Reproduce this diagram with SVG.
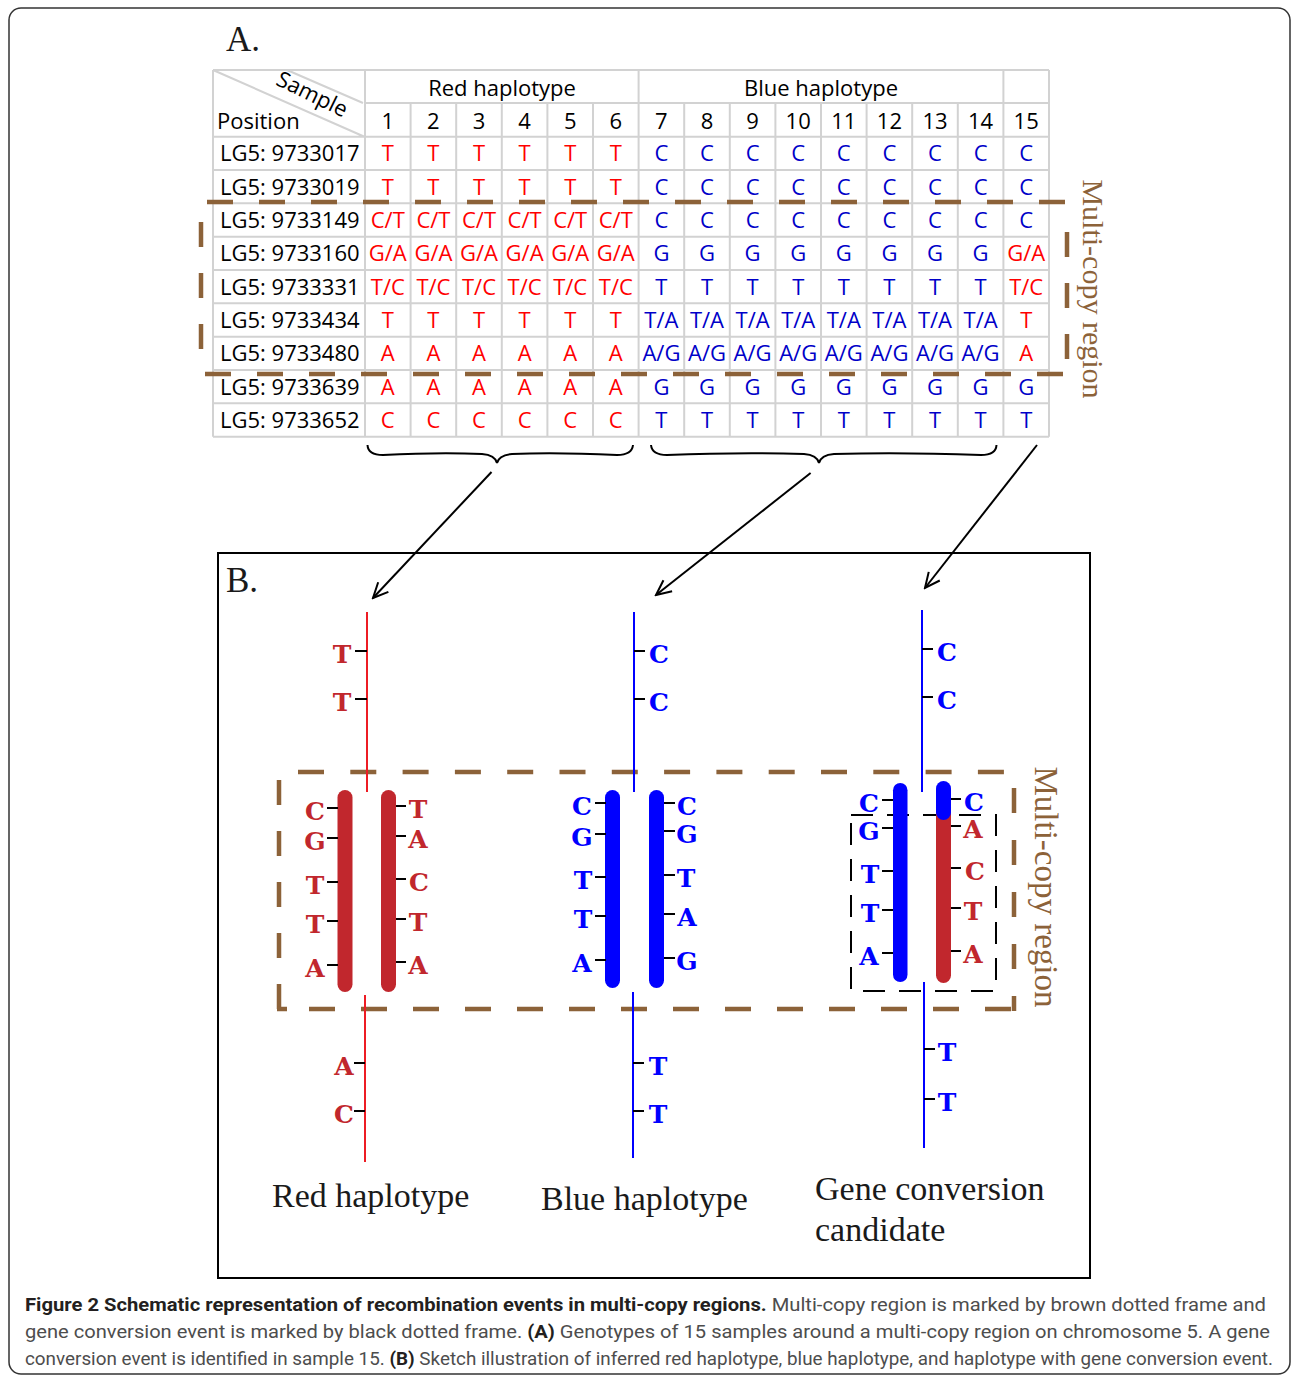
<svg xmlns="http://www.w3.org/2000/svg" width="1292" height="1377" viewBox="0 0 1292 1377">
<style>
.t{font-family:"Open Sans","Liberation Sans",sans-serif;font-size:22px;text-anchor:middle}
.lab{font-family:"Open Sans","Liberation Sans",sans-serif;font-size:22px;fill:#000}
.r{fill:#ff0000}
.b{fill:#0000c8}
.k{fill:#000}
.grid{stroke:#d2d2d2;stroke-width:2;fill:none}
.brown{stroke:#8c6239;stroke-width:4.5;fill:none}
.ser{font-family:"Liberation Serif","Times New Roman",serif;fill:#1a1a1a}
.bl{font-family:"DejaVu Serif","Liberation Serif",serif;font-weight:bold;font-size:25px;text-anchor:middle}
.br{fill:#c1272d}
.bb{fill:#0000ff}
.tick{stroke:#000;stroke-width:2}
.cap{font-family:"Roboto","Liberation Sans",sans-serif;font-size:18px;fill:#4d4d4d}
.cb{font-weight:bold;fill:#231f20}
</style>
<defs>
<marker id="ah" markerWidth="18" markerHeight="18" refX="16" refY="8" orient="auto" markerUnits="userSpaceOnUse" viewBox="0 0 18 16">
<path d="M1,1 L16,8 L1,15" fill="none" stroke="#000" stroke-width="2"/>
</marker>
</defs>
<rect x="9" y="8" width="1281" height="1366" rx="12" fill="#fff" stroke="#333" stroke-width="1.5"/>

<g id="partA">
<text class="ser" x="226" y="51" font-size="35">A.</text>
<g id="table">
<path class="grid" d="M213,70V436.7M365,70V436.7M638.6,70V436.7M1003.4,70V436.7M1049,70V436.7M410.6,103V436.7M456.2,103V436.7M501.8,103V436.7M547.4,103V436.7M593,103V436.7M684.2,103V436.7M729.8,103V436.7M775.4,103V436.7M821,103V436.7M866.6,103V436.7M912.2,103V436.7M957.8,103V436.7M213,70H1049M365,103H1049M213,136.7H1049M213,170H1049M213,203.3H1049M213,236.7H1049M213,270H1049M213,303.3H1049M213,336.7H1049M213,370H1049M213,403.3H1049M213,436.7H1049M213,70L365,137M287,70L363,103"/>
<text class="lab" x="217" y="129" font-size="23">Position</text>
<text class="lab" x="0" y="0" text-anchor="middle" transform="translate(309,101) rotate(26)">Sample</text>
<text class="t k" x="502" y="96">Red haplotype</text>
<text class="t k" x="821" y="96">Blue haplotype</text>
<g class="t k">
<text x="387.8" y="129">1</text><text x="433.4" y="129">2</text><text x="479" y="129">3</text><text x="524.6" y="129">4</text><text x="570.2" y="129">5</text><text x="615.8" y="129">6</text><text x="661.4" y="129">7</text><text x="707" y="129">8</text><text x="752.6" y="129">9</text><text x="798.2" y="129">10</text><text x="843.8" y="129">11</text><text x="889.4" y="129">12</text><text x="935" y="129">13</text><text x="980.6" y="129">14</text><text x="1026.2" y="129">15</text>
</g>
<g class="lab">
<text x="220" y="161">LG5: 9733017</text>
<text x="220" y="194.5">LG5: 9733019</text>
<text x="220" y="228">LG5: 9733149</text>
<text x="220" y="261">LG5: 9733160</text>
<text x="220" y="294.5">LG5: 9733331</text>
<text x="220" y="328">LG5: 9733434</text>
<text x="220" y="361">LG5: 9733480</text>
<text x="220" y="394.5">LG5: 9733639</text>
<text x="220" y="428">LG5: 9733652</text>
</g>
<g class="t r">
<text x="387.8" y="161">T</text><text x="433.4" y="161">T</text><text x="479" y="161">T</text><text x="524.6" y="161">T</text><text x="570.2" y="161">T</text><text x="615.8" y="161">T</text>
<text x="387.8" y="194.5">T</text><text x="433.4" y="194.5">T</text><text x="479" y="194.5">T</text><text x="524.6" y="194.5">T</text><text x="570.2" y="194.5">T</text><text x="615.8" y="194.5">T</text>
<text x="387.8" y="228">C/T</text><text x="433.4" y="228">C/T</text><text x="479" y="228">C/T</text><text x="524.6" y="228">C/T</text><text x="570.2" y="228">C/T</text><text x="615.8" y="228">C/T</text>
<text x="387.8" y="261">G/A</text><text x="433.4" y="261">G/A</text><text x="479" y="261">G/A</text><text x="524.6" y="261">G/A</text><text x="570.2" y="261">G/A</text><text x="615.8" y="261">G/A</text><text x="1026.2" y="261">G/A</text>
<text x="387.8" y="294.5">T/C</text><text x="433.4" y="294.5">T/C</text><text x="479" y="294.5">T/C</text><text x="524.6" y="294.5">T/C</text><text x="570.2" y="294.5">T/C</text><text x="615.8" y="294.5">T/C</text><text x="1026.2" y="294.5">T/C</text>
<text x="387.8" y="328">T</text><text x="433.4" y="328">T</text><text x="479" y="328">T</text><text x="524.6" y="328">T</text><text x="570.2" y="328">T</text><text x="615.8" y="328">T</text><text x="1026.2" y="328">T</text>
<text x="387.8" y="361">A</text><text x="433.4" y="361">A</text><text x="479" y="361">A</text><text x="524.6" y="361">A</text><text x="570.2" y="361">A</text><text x="615.8" y="361">A</text><text x="1026.2" y="361">A</text>
<text x="387.8" y="394.5">A</text><text x="433.4" y="394.5">A</text><text x="479" y="394.5">A</text><text x="524.6" y="394.5">A</text><text x="570.2" y="394.5">A</text><text x="615.8" y="394.5">A</text>
<text x="387.8" y="428">C</text><text x="433.4" y="428">C</text><text x="479" y="428">C</text><text x="524.6" y="428">C</text><text x="570.2" y="428">C</text><text x="615.8" y="428">C</text>
</g>
<g class="t b">
<text x="661.4" y="161">C</text><text x="707" y="161">C</text><text x="752.6" y="161">C</text><text x="798.2" y="161">C</text><text x="843.8" y="161">C</text><text x="889.4" y="161">C</text><text x="935" y="161">C</text><text x="980.6" y="161">C</text><text x="1026.2" y="161">C</text>
<text x="661.4" y="194.5">C</text><text x="707" y="194.5">C</text><text x="752.6" y="194.5">C</text><text x="798.2" y="194.5">C</text><text x="843.8" y="194.5">C</text><text x="889.4" y="194.5">C</text><text x="935" y="194.5">C</text><text x="980.6" y="194.5">C</text><text x="1026.2" y="194.5">C</text>
<text x="661.4" y="228">C</text><text x="707" y="228">C</text><text x="752.6" y="228">C</text><text x="798.2" y="228">C</text><text x="843.8" y="228">C</text><text x="889.4" y="228">C</text><text x="935" y="228">C</text><text x="980.6" y="228">C</text><text x="1026.2" y="228">C</text>
<text x="661.4" y="261">G</text><text x="707" y="261">G</text><text x="752.6" y="261">G</text><text x="798.2" y="261">G</text><text x="843.8" y="261">G</text><text x="889.4" y="261">G</text><text x="935" y="261">G</text><text x="980.6" y="261">G</text>
<text x="661.4" y="294.5">T</text><text x="707" y="294.5">T</text><text x="752.6" y="294.5">T</text><text x="798.2" y="294.5">T</text><text x="843.8" y="294.5">T</text><text x="889.4" y="294.5">T</text><text x="935" y="294.5">T</text><text x="980.6" y="294.5">T</text>
<text x="661.4" y="328">T/A</text><text x="707" y="328">T/A</text><text x="752.6" y="328">T/A</text><text x="798.2" y="328">T/A</text><text x="843.8" y="328">T/A</text><text x="889.4" y="328">T/A</text><text x="935" y="328">T/A</text><text x="980.6" y="328">T/A</text>
<text x="661.4" y="361">A/G</text><text x="707" y="361">A/G</text><text x="752.6" y="361">A/G</text><text x="798.2" y="361">A/G</text><text x="843.8" y="361">A/G</text><text x="889.4" y="361">A/G</text><text x="935" y="361">A/G</text><text x="980.6" y="361">A/G</text>
<text x="661.4" y="394.5">G</text><text x="707" y="394.5">G</text><text x="752.6" y="394.5">G</text><text x="798.2" y="394.5">G</text><text x="843.8" y="394.5">G</text><text x="889.4" y="394.5">G</text><text x="935" y="394.5">G</text><text x="980.6" y="394.5">G</text><text x="1026.2" y="394.5">G</text>
<text x="661.4" y="428">T</text><text x="707" y="428">T</text><text x="752.6" y="428">T</text><text x="798.2" y="428">T</text><text x="843.8" y="428">T</text><text x="889.4" y="428">T</text><text x="935" y="428">T</text><text x="980.6" y="428">T</text><text x="1026.2" y="428">T</text>
</g>
</g>
<g id="multicopyA">
<line class="brown" x1="207" y1="202" x2="1068" y2="202" stroke-dasharray="26 26"/>
<line class="brown" x1="205" y1="374" x2="1068" y2="374" stroke-dasharray="26 26"/>
<line class="brown" x1="201" y1="222" x2="201" y2="350" stroke-dasharray="25 26"/>
<line class="brown" x1="1067" y1="232" x2="1067" y2="360" stroke-dasharray="25 26"/>
<text class="ser" x="0" y="0" font-size="30" style="fill:#8c6239" text-anchor="middle" transform="translate(1083,289) rotate(90)">Multi-copy region</text>
</g>
</g>

<g id="connectors" fill="none" stroke="#000" stroke-width="2">
<path d="M367.5,445 Q368,455 383,455 Q440,452 482,454 Q495,455 497,463 Q499,455 512,454 Q555,452 617,455 Q632,455 633,445"/>
<path d="M651,445 Q652,455 667,455 Q740,452 804,454 Q817,455 819,463 Q821,455 834,454 Q900,452 981,455 Q996,455 996.5,445"/>
<line x1="491.5" y1="472" x2="373" y2="598" marker-end="url(#ah)"/>
<line x1="810.6" y1="473" x2="656" y2="595" marker-end="url(#ah)"/>
<line x1="1037" y1="445" x2="925" y2="588" marker-end="url(#ah)"/>
</g>

<g id="partB">
<rect x="218" y="553" width="872" height="725" fill="none" stroke="#000" stroke-width="2"/>
<text class="ser" x="226" y="592" font-size="35">B.</text>

<g id="multicopyB">
<line class="brown" x1="298" y1="772" x2="1014" y2="772" stroke-dasharray="26 26.3"/>
<line class="brown" x1="279" y1="780" x2="279" y2="1011" stroke-dasharray="25 26"/>
<line class="brown" x1="277" y1="1009" x2="287" y2="1009"/>
<line class="brown" x1="309" y1="1009" x2="1016" y2="1009" stroke-dasharray="26 26"/>
<line class="brown" x1="1014" y1="788" x2="1014" y2="1011" stroke-dasharray="25 27"/>
<text class="ser" x="0" y="0" font-size="33" style="fill:#8c6239" text-anchor="middle" transform="translate(1035,887) rotate(90)">Multi-copy region</text>
</g>

<g id="redHaplotype">
<line x1="367" y1="612" x2="367" y2="792" stroke="#ed1c24" stroke-width="2"/>
<line x1="365" y1="995" x2="365" y2="1162" stroke="#ed1c24" stroke-width="2"/>
<rect x="337.5" y="790" width="15" height="202" rx="7.5" fill="#c1272d"/>
<rect x="381" y="790" width="15" height="202" rx="7.5" fill="#c1272d"/>
<path class="tick" d="M355,651H367M355,699H367M354,1063H365M354,1111H365M327,808H338M327,838H338M327,882H338M327,921H338M327,965H338M396,806H406M396,836H406M396,879H406M396,919H406M396,962H406"/>
<g class="bl br" transform="translate(0,1)">
<text x="342" y="662">T</text><text x="342" y="710">T</text>
<text x="344" y="1074">A</text><text x="344" y="1122">C</text>
<text x="315" y="819">C</text><text x="315" y="849">G</text><text x="315" y="893">T</text><text x="315" y="932">T</text><text x="315" y="976">A</text>
<text x="418" y="817">T</text><text x="418" y="847">A</text><text x="419" y="890">C</text><text x="418" y="930">T</text><text x="418" y="973">A</text>
</g>
<text class="ser" x="272" y="1207" font-size="34">Red haplotype</text>
</g>

<g id="blueHaplotype">
<line x1="634" y1="612" x2="634" y2="792" stroke="#0000ff" stroke-width="2"/>
<line x1="633" y1="992" x2="633" y2="1158" stroke="#0000ff" stroke-width="2"/>
<rect x="605" y="790" width="15" height="198" rx="7.5" fill="#0000ff"/>
<rect x="649" y="790" width="15" height="198" rx="7.5" fill="#0000ff"/>
<path class="tick" d="M634,651H645M634,699H645M633,1063H644M633,1111H644M595,803H606M595,834H606M595,877H606M595,916H606M595,960H606M664,803H675M664,831H675M664,875H675M664,914H675M664,958H675"/>
<g class="bl bb" transform="translate(0,1)">
<text x="659" y="662">C</text><text x="659" y="710">C</text>
<text x="658" y="1074">T</text><text x="658" y="1122">T</text>
<text x="582" y="814">C</text><text x="582" y="845">G</text><text x="583" y="888">T</text><text x="583" y="927">T</text><text x="582" y="971">A</text>
<text x="687" y="814">C</text><text x="687" y="842">G</text><text x="686" y="886">T</text><text x="687" y="925">A</text><text x="687" y="969">G</text>
</g>
<text class="ser" x="541" y="1210" font-size="34">Blue haplotype</text>
</g>

<g id="geneConversion">
<rect x="851" y="815" width="145" height="176" fill="none" stroke="#000" stroke-width="2" stroke-dasharray="22 14"/>
<line x1="922" y1="610" x2="922" y2="792" stroke="#0000ff" stroke-width="2"/>
<line x1="924" y1="982" x2="924" y2="1148" stroke="#0000ff" stroke-width="2"/>
<rect x="893" y="783" width="14.5" height="199" rx="7.25" fill="#0000ff"/>
<rect x="936" y="800" width="15" height="183" rx="7.5" fill="#c1272d"/>
<rect x="936" y="781" width="15" height="39" rx="7.5" fill="#0000ff"/>
<path class="tick" d="M922,649H933M922,697H933M924,1049H935M924,1099H935M882,800H893M882,828H893M882,871H893M882,910H893M882,953H893M951,799H961M951,826H961M951,868H961M951,908H961M951,951H961"/>
<g class="bl bb" transform="translate(0,1)">
<text x="947" y="660">C</text><text x="947" y="708">C</text>
<text x="947" y="1060">T</text><text x="947" y="1110">T</text>
<text x="869" y="811">C</text><text x="869" y="839">G</text><text x="870" y="882">T</text><text x="870" y="921">T</text><text x="869" y="964">A</text>
<text x="974" y="810">C</text>
</g>
<g class="bl br" transform="translate(0,1)">
<text x="973" y="837">A</text><text x="975" y="879">C</text><text x="973" y="919">T</text><text x="973" y="962">A</text>
</g>
<text class="ser" x="815" y="1200" font-size="34">Gene conversion</text>
<text class="ser" x="815" y="1241" font-size="34">candidate</text>
</g>
</g>

<g id="caption">
<text class="cap" x="25" y="1311" textLength="1241" lengthAdjust="spacingAndGlyphs"><tspan class="cb">Figure 2 Schematic representation of recombination events in multi-copy regions.</tspan> Multi-copy region is marked by brown dotted frame and</text>
<text class="cap" x="25" y="1338" textLength="1245" lengthAdjust="spacingAndGlyphs">gene conversion event is marked by black dotted frame. <tspan class="cb">(A)</tspan> Genotypes of 15 samples around a multi-copy region on chromosome 5. A gene</text>
<text class="cap" x="25" y="1365" textLength="1248" lengthAdjust="spacingAndGlyphs">conversion event is identified in sample 15. <tspan class="cb">(B)</tspan> Sketch illustration of inferred red haplotype, blue haplotype, and haplotype with gene conversion event.</text>
</g>
</svg>
